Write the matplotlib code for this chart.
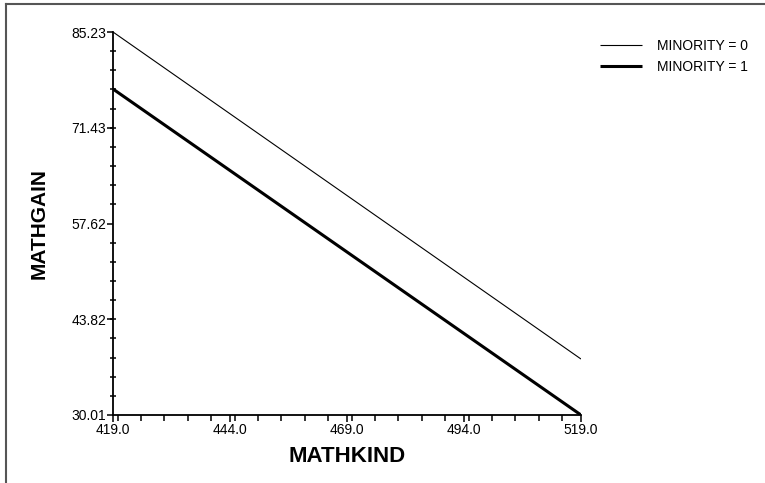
import matplotlib
matplotlib.use("Agg")
import matplotlib.pyplot as plt
from matplotlib.lines import Line2D
from matplotlib.ticker import FixedLocator, MultipleLocator

plt.rcParams['font.family'] = ['Liberation Sans', 'DejaVu Sans']

# Data
mathkind = [419.0, 519.0]
gain_minority0 = [85.23, 38.08]
gain_minority1 = [77.01, 30.01]
series_labels = ["MINORITY = 0", "MINORITY = 1"]
x_ticks = [419.0, 444.0, 469.0, 494.0, 519.0]
y_ticks = [30.01, 43.82, 57.62, 71.43, 85.23]

fig = plt.figure(figsize=(7.65, 4.83), dpi=100)
ax = fig.add_axes([113/765, 1-415/483, (581-113)/765, (415-32)/483])

l0, = ax.plot(mathkind, gain_minority0, color='black', lw=0.8, solid_capstyle='butt')
l1, = ax.plot(mathkind, gain_minority1, color='black', lw=2.2, solid_capstyle='butt')

ax.set_xlim(419.0, 519.0)
ax.set_ylim(30.01, 85.23)
ax.xaxis.set_major_locator(FixedLocator(x_ticks))
ax.yaxis.set_major_locator(FixedLocator(y_ticks))
ax.xaxis.set_minor_locator(MultipleLocator(5.0))
ax.yaxis.set_minor_locator(FixedLocator([30.01 + i*(85.23-30.01)/20 for i in range(21)]))
ax.set_xticklabels([f"{v:.1f}" for v in x_ticks])
ax.set_yticklabels([f"{v:.2f}" for v in y_ticks])

for s in ['top', 'right']:
    ax.spines[s].set_visible(False)
for s in ['left', 'bottom']:
    ax.spines[s].set_linewidth(1.3)

ax.tick_params(axis='x', which='major', direction='out', length=5, width=1.1, pad=1, labelsize=10)
ax.tick_params(axis='x', which='minor', direction='out', length=4, width=1.1)
ax.tick_params(axis='y', which='major', direction='out', length=4.5, width=1.1, pad=0.5, labelsize=10)
ax.tick_params(axis='y', which='minor', direction='inout', length=4, width=1.1)

ax.set_xlabel("MATHKIND", fontsize=16, fontweight='bold', labelpad=6)
ax.set_ylabel("MATHGAIN", fontsize=15, fontweight='bold', labelpad=16)

fig.legend([l0, l1], series_labels, loc='upper left',
           bbox_to_anchor=(600/765, 1-39/483), frameon=False, fontsize=10,
           handlelength=3.0, handletextpad=1.1, labelspacing=0.5,
           borderpad=0, borderaxespad=0)

# outer gray frame (top and left)
fig.add_artist(Line2D([6/765, 1.0], [1-4/483, 1-4/483], transform=fig.transFigure, color='#555555', lw=1.5))
fig.add_artist(Line2D([6/765, 6/765], [0.0, 1-4/483], transform=fig.transFigure, color='#555555', lw=1.5))

fig.savefig("out.png", dpi=100)
